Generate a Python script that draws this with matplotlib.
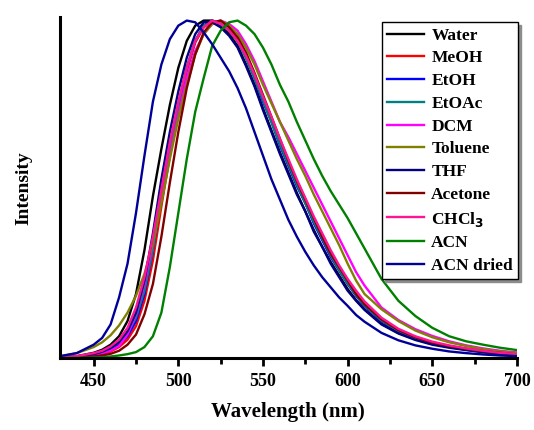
import matplotlib
matplotlib.use("Agg")
import matplotlib.pyplot as plt
from matplotlib.ticker import MultipleLocator

plt.rcParams['font.family'] = ['Liberation Serif', 'DejaVu Serif']
plt.rcParams['font.weight'] = 'bold'

# wavelength grid (nm)
wl = [430, 440, 450, 455, 460, 465, 470, 475, 480, 485, 490, 495, 500, 505, 510,
      515, 520, 525, 530, 535, 540, 545, 550, 555, 560, 565, 570, 575, 580, 585,
      590, 595, 600, 605, 610, 620, 630, 640, 650, 660, 670, 680, 690, 700]

water = [0.003, 0.006, 0.016, 0.025, 0.04, 0.065, 0.11, 0.19, 0.32, 0.48, 0.62, 0.75, 0.86, 0.94, 0.985,
         1.0, 1.0, 0.985, 0.96, 0.925, 0.87, 0.81, 0.74, 0.675, 0.61, 0.55, 0.49, 0.435, 0.38, 0.33,
         0.285, 0.245, 0.205, 0.172, 0.145, 0.102, 0.075, 0.056, 0.042, 0.033, 0.025, 0.018, 0.014, 0.01]
meoh = [0.001, 0.003, 0.008, 0.012, 0.02, 0.033, 0.055, 0.095, 0.17, 0.29, 0.45, 0.6, 0.74, 0.85, 0.935,
        0.98, 1.0, 0.99, 0.97, 0.94, 0.895, 0.835, 0.77, 0.705, 0.64, 0.575, 0.515, 0.46, 0.405, 0.355,
        0.305, 0.262, 0.222, 0.188, 0.158, 0.112, 0.081, 0.061, 0.046, 0.035, 0.027, 0.02, 0.015, 0.011]
etoh = [0.002, 0.004, 0.01, 0.016, 0.025, 0.04, 0.065, 0.11, 0.19, 0.32, 0.48, 0.62, 0.75, 0.86, 0.94,
        0.985, 1.0, 0.99, 0.97, 0.94, 0.89, 0.83, 0.76, 0.70, 0.63, 0.57, 0.51, 0.46, 0.40, 0.35,
        0.30, 0.26, 0.22, 0.185, 0.155, 0.11, 0.08, 0.06, 0.045, 0.035, 0.027, 0.02, 0.015, 0.011]
etoac = [0.002, 0.005, 0.012, 0.019, 0.03, 0.047, 0.075, 0.12, 0.2, 0.32, 0.48, 0.62, 0.75, 0.86, 0.94,
         0.985, 1.0, 0.99, 0.97, 0.94, 0.89, 0.83, 0.765, 0.70, 0.635, 0.575, 0.515, 0.46, 0.405, 0.355,
         0.305, 0.262, 0.222, 0.187, 0.157, 0.112, 0.081, 0.06, 0.045, 0.035, 0.027, 0.02, 0.015, 0.011]
dcm = [0.002, 0.004, 0.01, 0.015, 0.022, 0.036, 0.07, 0.13, 0.22, 0.34, 0.47, 0.6, 0.72, 0.83, 0.91,
       0.96, 0.99, 1.0, 0.99, 0.97, 0.93, 0.88, 0.82, 0.76, 0.70, 0.655, 0.605, 0.555, 0.505, 0.455,
       0.405, 0.355, 0.305, 0.255, 0.215, 0.15, 0.113, 0.086, 0.066, 0.05, 0.038, 0.029, 0.022, 0.017]
toluene = [0.005, 0.015, 0.033, 0.047, 0.068, 0.097, 0.135, 0.185, 0.25, 0.34, 0.46, 0.59, 0.71, 0.81, 0.9,
           0.96, 0.99, 1.0, 0.985, 0.96, 0.92, 0.87, 0.81, 0.755, 0.70, 0.645, 0.59, 0.54, 0.485, 0.435,
           0.385, 0.335, 0.28, 0.23, 0.19, 0.145, 0.11, 0.082, 0.062, 0.047, 0.036, 0.027, 0.02, 0.015]
thf = [0.002, 0.005, 0.012, 0.019, 0.03, 0.048, 0.08, 0.135, 0.23, 0.37, 0.53, 0.67, 0.79, 0.89, 0.96,
       0.995, 0.995, 0.98, 0.955, 0.92, 0.865, 0.805, 0.735, 0.67, 0.605, 0.545, 0.485, 0.435, 0.375, 0.33,
       0.28, 0.24, 0.2, 0.17, 0.143, 0.1, 0.073, 0.054, 0.04, 0.031, 0.024, 0.018, 0.013, 0.01]
acetone = [0.001, 0.002, 0.005, 0.008, 0.013, 0.022, 0.04, 0.07, 0.13, 0.22, 0.36, 0.52, 0.67, 0.8, 0.9,
           0.965, 0.995, 1.0, 0.98, 0.95, 0.905, 0.845, 0.78, 0.715, 0.65, 0.585, 0.525, 0.47, 0.415, 0.36,
           0.31, 0.27, 0.23, 0.19, 0.16, 0.115, 0.083, 0.062, 0.046, 0.036, 0.028, 0.021, 0.016, 0.011]
chcl3 = [0.003, 0.006, 0.015, 0.022, 0.035, 0.055, 0.09, 0.15, 0.24, 0.36, 0.5, 0.64, 0.76, 0.86, 0.94,
         0.98, 1.0, 0.99, 0.97, 0.94, 0.895, 0.84, 0.775, 0.715, 0.65, 0.59, 0.53, 0.475, 0.42, 0.37,
         0.32, 0.275, 0.235, 0.2, 0.168, 0.12, 0.087, 0.065, 0.049, 0.038, 0.029, 0.022, 0.016, 0.012]
acn = [0.0, 0.001, 0.002, 0.003, 0.005, 0.008, 0.012, 0.018, 0.033, 0.065, 0.135, 0.27, 0.43, 0.59, 0.73,
       0.83, 0.925, 0.97, 0.995, 1.0, 0.985, 0.96, 0.92, 0.87, 0.81, 0.76, 0.70, 0.645, 0.59, 0.54,
       0.495, 0.455, 0.415, 0.37, 0.325, 0.235, 0.17, 0.125, 0.09, 0.065, 0.05, 0.04, 0.031, 0.024]
acn_dried = [0.006, 0.015, 0.04, 0.06, 0.1, 0.18, 0.28, 0.43, 0.6, 0.76, 0.87, 0.945, 0.985, 1.0, 0.995,
             0.965, 0.93, 0.89, 0.85, 0.80, 0.74, 0.67, 0.60, 0.53, 0.47, 0.41, 0.36, 0.315, 0.275, 0.24,
             0.21, 0.18, 0.155, 0.128, 0.108, 0.075, 0.053, 0.038, 0.028, 0.02, 0.015, 0.011, 0.008, 0.006]

labels = ['Water', 'MeOH', 'EtOH', 'EtOAc', 'DCM', 'Toluene', 'THF', 'Acetone',
          'CHCl$_3$', 'ACN', 'ACN dried']
series = [water, meoh, etoh, etoac, dcm, toluene, thf, acetone, chcl3, acn, acn_dried]
colors = ['#000000', '#FF0000', '#0000FF', '#008080', '#FF00FF', '#808000',
          '#000080', '#800000', '#FF1493', '#008000', '#000099']

fig = plt.figure(figsize=(5.34, 4.30), dpi=100)
ax = fig.add_axes([0.112, 0.167, 0.856, 0.793])

for y, lab, c in zip(series, labels, colors):
    ax.plot(wl, y, color=c, lw=1.7, label=lab)

ax.set_xlim(430, 700)
ax.set_ylim(0, 1.01)
ax.xaxis.set_major_locator(MultipleLocator(50))
ax.xaxis.set_minor_locator(MultipleLocator(25))
ax.set_yticks([])
for s in ['top', 'right']:
    ax.spines[s].set_visible(False)
for s in ['left', 'bottom']:
    ax.spines[s].set_linewidth(2.2)
ax.tick_params(axis='x', which='major', direction='out', length=6, width=2,
               labelsize=13, pad=5)
ax.tick_params(axis='x', which='minor', direction='out', length=4, width=2)
for t in ax.get_xticklabels():
    t.set_fontweight('bold')

ax.set_xlabel('Wavelength (nm)', fontsize=15, fontweight='bold', labelpad=8)
ax.set_ylabel('Intensity', fontsize=14, fontweight='bold', labelpad=20)

leg = ax.legend(loc='upper right', bbox_to_anchor=(1.003, 0.985),
                frameon=True, fancybox=False,
                shadow={'color': '0.55', 'alpha': 1.0},
                handlelength=2.1, handletextpad=0.45, labelspacing=0.38,
                borderpad=0.3, borderaxespad=0.0,
                prop={'weight': 'bold', 'size': 12.5})
leg.get_frame().set_edgecolor('black')
leg.get_frame().set_linewidth(1.0)

fig.savefig('out.png', dpi=100)
